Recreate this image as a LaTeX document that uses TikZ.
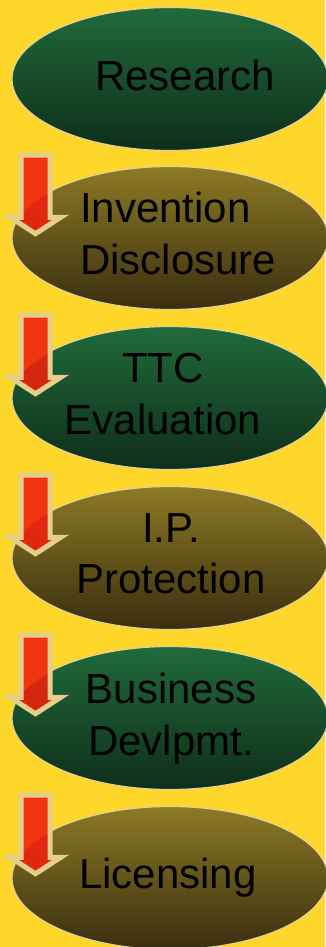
\documentclass[tikz,border=0pt]{standalone}
\usepackage{fontspec}
\setmainfont{Liberation Sans}
\usetikzlibrary{shapes.geometric,shapes.arrows}

\definecolor{bgyellow}{RGB}{255,214,42}
\definecolor{rimbeige}{RGB}{226,210,150}
\definecolor{greentop}{RGB}{33,106,58}
\definecolor{greenbot}{RGB}{14,46,26}
\definecolor{olivetop}{RGB}{140,122,36}
\definecolor{olivebot}{RGB}{58,46,16}
\definecolor{arrowred}{RGB}{240,32,12}
\definecolor{arrowrim}{RGB}{228,206,140}

\begin{document}
\begin{tikzpicture}[x=1pt, y=-1pt,
    stage/.style={ellipse, draw=rimbeige, line width=1.2pt, minimum width=316pt, minimum height=143pt, inner sep=0pt},
    greenstage/.style={stage, top color=greentop, bottom color=greenbot},
    olivestage/.style={stage, top color=olivetop, bottom color=olivebot},
    caption/.style={font=\fontsize{42}{51.5}\selectfont, inner sep=0pt, align=center},
    downarrow/.style={single arrow, rotate=-90, draw=arrowrim, line width=5pt, fill=arrowred, fill opacity=0.88,
        inner xsep=0pt, inner ysep=12pt, minimum height=78.5pt, minimum width=1pt,
        single arrow head extend=10.5pt, single arrow tip angle=114}]
    \useasboundingbox (0,0) rectangle (325,947);
    \fill[bgyellow] (0,0) rectangle (325,947);

    % Stages
    \node (s1) at (170,79) [greenstage] {};
    \node (s2) at (170,238) [olivestage] {};
    \node (s3) at (170,398) [greenstage] {};
    \node (s4) at (170,558) [olivestage] {};
    \node (s5) at (170,718) [greenstage] {};
    \node (s6) at (170,878) [olivestage] {};

    % Arrows
    \node (a2) at (35.5,189.75) [downarrow] {};
    \node (a3) at (35.5,349.75) [downarrow] {};
    \node (a4) at (35.5,509.75) [downarrow] {};
    \node (a5) at (35.5,669.75) [downarrow] {};
    \node (a6) at (35.5,829.75) [downarrow] {};

    % Labels
    \node (l1) at (185,75) [caption] {Research};
    \node (l2) at (80,233.5) [caption, align=left, anchor=west] {Invention\\Disclosure};
    \node (l3) at (163,394) [caption] {TTC\\Evaluation};
    \node (l4) at (171,554) [caption] {I.P.\\Protection};
    \node (l5) at (171,718.5) [caption] {Business\\Devlpmt.};
    \node (l6) at (168,877.5) [caption] {Licensing};
\end{tikzpicture}
\end{document}
